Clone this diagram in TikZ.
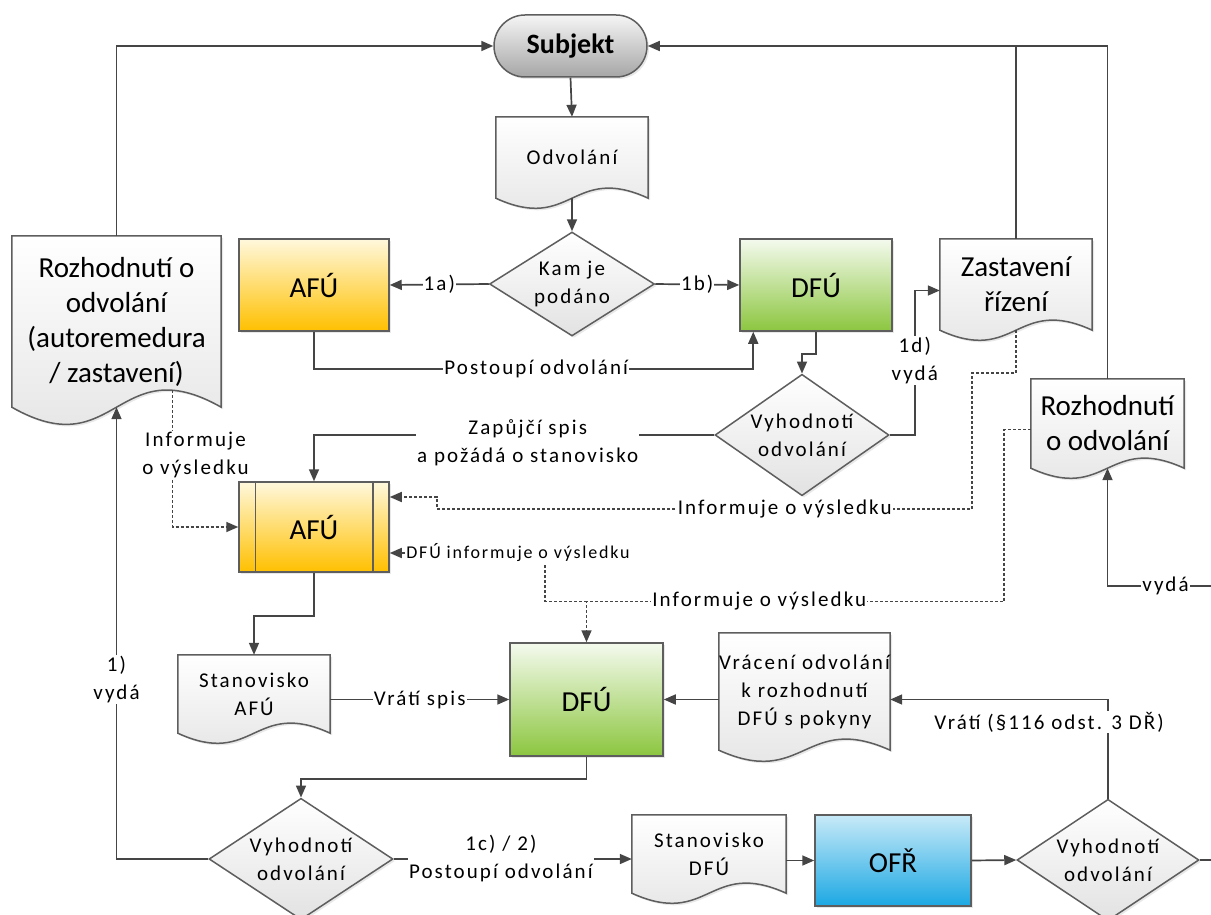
\documentclass[tikz,border=0pt]{standalone}
\usepackage{fontspec}
\setmainfont{Carlito}
\newfontfamily\lblfont[LetterSpace=10]{Carlito}
\usetikzlibrary{shapes.geometric,arrows.meta,shadows,backgrounds}
\definecolor{edgegray}{HTML}{454545}
\definecolor{bordergray}{HTML}{5E5E5E}
\definecolor{afutop}{HTML}{FFF8DC}
\definecolor{afubot}{HTML}{FFC000}
\definecolor{dfutop}{HTML}{F4FAEE}
\definecolor{dfubot}{HTML}{8CC63F}
\definecolor{ofrtop}{HTML}{C8EAF8}
\definecolor{ofrbot}{HTML}{1CA8E3}
\definecolor{subjtop}{HTML}{F5F5F5}
\definecolor{subjbot}{HTML}{A6A6A6}
\definecolor{doctop}{HTML}{FFFFFF}
\definecolor{docbot}{HTML}{E2E2E2}
\begin{document}
\begin{tikzpicture}[x=1pt,y=-1pt]
	\tikzstyle{shade}=[drop shadow={shadow xshift=2pt,shadow yshift=-2pt,opacity=0.18}]
	\tikzstyle{box}=[rectangle,draw=bordergray,line width=1.5pt,shade,font=\fontsize{29}{35}\selectfont]
	\tikzstyle{afu}=[box,top color=afutop,bottom color=afubot,minimum width=150,minimum height=92]
	\tikzstyle{dfu}=[box,top color=dfutop,bottom color=dfubot,minimum width=152,minimum height=92]
	\tikzstyle{ofr}=[box,top color=ofrtop,bottom color=ofrbot,minimum width=156,minimum height=91]
	\tikzstyle{term}=[box,rounded corners=31pt,top color=subjtop,bottom color=subjbot,minimum width=153,minimum height=62,font=\bfseries\fontsize{28}{34}\selectfont]
	\tikzstyle{doc}=[rectangle,inner sep=0pt,align=center,font=\lblfont\fontsize{21}{28}\selectfont]
	\tikzstyle{bigdoc}=[doc,font=\fontsize{29}{35}\selectfont]
	\tikzstyle{paper}=[draw=bordergray,line width=1.5pt,top color=doctop,bottom color=docbot,shade]
	\tikzstyle{decision}=[diamond,draw=bordergray,line width=1.5pt,top color=doctop,bottom color=docbot,shade,inner xsep=-8pt,inner ysep=-4pt,align=center,font=\lblfont\fontsize{21}{28}\selectfont]
	\tikzstyle{edge}=[draw=edgegray,line width=1.7pt]
	\tikzstyle{arr}=[edge,-{Triangle[length=12pt,width=10pt]}]
	\tikzstyle{dotedge}=[edge,dash pattern=on 3pt off 2pt]
	\tikzstyle{dotarr}=[arr,dash pattern=on 3pt off 2pt]
	\tikzstyle{lbl}=[fill=white,inner sep=1pt,align=center,font=\lblfont\fontsize{21}{28}\selectfont]

	\useasboundingbox (0,0) rectangle (1211,915);

	\node [term] (subj) at (570.5,46) {Subjekt};
	\node [doc,minimum width=152,minimum height=81] (odv) at (572,157.5) {Odvolání};
	\node [decision,minimum width=165,minimum height=104] (kam) at (572,284) {Kam je\\podáno};
	\node [afu] (afu1) at (314,285) {AFÚ};
	\node [dfu] (dfu1) at (816,285) {DFÚ};
	\node [bigdoc,minimum width=152,minimum height=91] (zast) at (1016,284.5) {Zastavení\\řízení};
	\node [bigdoc,minimum width=209,minimum height=171] (rozhL) at (116.5,321.5) {Rozhodnutí o\\odvolání\\(autoremedura\\/ zastavení)};
	\node [decision,minimum width=174,minimum height=112] (vyh1) at (802,435) {Vyhodnotí\\odvolání};
	\node [bigdoc,minimum width=153,minimum height=89] (rozhR) at (1107.5,423.5) {Rozhodnutí\\o odvolání};
	\node [afu,minimum height=90] (afu2) at (314,527) {AFÚ};
	\draw [draw=bordergray,line width=1.5pt] ([xshift=17pt]afu2.north west) -- ([xshift=17pt]afu2.south west);
	\draw [draw=bordergray,line width=1.5pt] ([xshift=-17pt]afu2.north east) -- ([xshift=-17pt]afu2.south east);
	\node [lbl,font=\lblfont\fontsize{18}{24}\selectfont] (dfuinf) at (518,553) {DFÚ informuje o výsledku};
	\node [doc,minimum width=152,minimum height=78] (stanA) at (254,694) {Stanovisko\\AFÚ};
	\node [dfu,minimum width=153,minimum height=113] (dfu2) at (586.5,699.5) {DFÚ};
	\node [doc,minimum width=171,minimum height=117] (vrac) at (804.5,691.5) {Vrácení odvolání\\k rozhodnutí\\DFÚ s pokyny};
	\node [decision,minimum width=184,minimum height=114] (vyh2) at (301,859) {Vyhodnotí\\odvolání};
	\node [doc,minimum width=154,minimum height=78] (stanD) at (709,854) {Stanovisko\\DFÚ};
	\node [ofr] (ofr) at (893,860.5) {OFŘ};
	\node [decision,minimum width=182,minimum height=114] (vyh3) at (1108,860) {Vyhodnotí\\odvolání};
	\coordinate (outR) at (1211,860);
	\coordinate (inR) at (1211,586);

	\begin{scope}[on background layer]
		\foreach \d/\a in {odv/10,zast/10,rozhL/17,rozhR/10,stanA/10,vrac/11,stanD/10}
			\path [paper] (\d.south west) -- (\d.north west) -- (\d.north east) -- (\d.south east)
				.. controls ([yshift={3.5pt*\a}]\d.south) and ([yshift={-3.5pt*\a}]\d.south) .. (\d.south west) -- cycle;
	\end{scope}

	\path [arr] (rozhL.north) |- (subj.west);
	\path [arr] (rozhR.north) |- (subj.east);
	\path [edge] (zast.north) -- (zast.north |- subj.east);
	\path [arr] (subj.south) -- (odv.north);
	\path [arr] (odv.south) -- (kam.north);
	\path [arr] (kam.west) -- node [lbl] {1a)} (afu1.east);
	\path [arr] (kam.east) -- node [lbl] {1b)} (dfu1.west);
	\path [arr] (afu1.south) -- ++(0,37) -| node [lbl,pos=0.253] {Postoupí odvolání} ([xshift=14pt]dfu1.south west);
	\path [arr] (dfu1.south) -- ++(0,22) -| (vyh1.north);
	\path [arr] (vyh1.east) -- ++(25,0) |- node [lbl,pos=0.257] {1d)\\vydá} ([yshift=-6pt]zast.west);
	\path [arr] (vyh1.west) -| node [lbl,pos=0.233,yshift=-8pt] {Zapůjčí spis\\a požádá o stanovisko} (afu2.north);
	\path [dotarr] ([shift={(56,-17)}]rozhL.south) |- node [lbl,pos=0.235,xshift=23pt] {Informuje\\o výsledku} (afu2.west);
	\path [dotarr] (zast.south) -- ++(0,43) -| ++(-44,136) -- node [lbl,pos=0.35] {Informuje o výsledku} ++(-535,0) |- ([yshift=30pt]afu2.east);
	\path [dotarr] ([yshift=-6pt]rozhR.west) -- ++(-27,0) -- ++(0,172) -| node [lbl,pos=0.293] {Informuje o výsledku} coordinate [pos=0.5] (jn) (dfu2.north);
	\path [dotedge] (jn) -| ([xshift=27pt]dfuinf.south);
	\path [dotarr] (dfuinf.west) -- (afu2.east |- dfuinf.west);
	\path [arr] (afu2.south) -- ++(0,43) -| (stanA.north);
	\path [arr] (stanA.east |- dfu2.west) -- node [lbl] {Vrátí spis} (dfu2.west);
	\path [arr] (vrac.west |- dfu2.east) -- (dfu2.east);
	\path [arr] (vyh3.north) |- node [lbl,pos=0.386,xshift=-59pt] {Vrátí (§116 odst. 3 DŘ)} (vrac.east |- dfu2.east);
	\path [arr] (dfu2.south) -- ++(0,22) -| (vyh2.north);
	\path [arr] (vyh2.west) -| node [lbl,pos=0.699] {1)\\vydá} (rozhL.south);
	\path [arr] (vyh2.east) -- node [lbl,pos=0.45] {1c) / 2)\\Postoupí odvolání} (stanD.west |- vyh2.east);
	\path [arr] (stanD.east |- ofr.west) -- (ofr.west);
	\path [arr] (ofr.east) -- (vyh3.west);
	\path [edge] (vyh3.east) -- (outR);
	\path [arr] (inR) -| node [lbl,pos=0.22] {vydá} (rozhR.south);
\end{tikzpicture}
\end{document}
